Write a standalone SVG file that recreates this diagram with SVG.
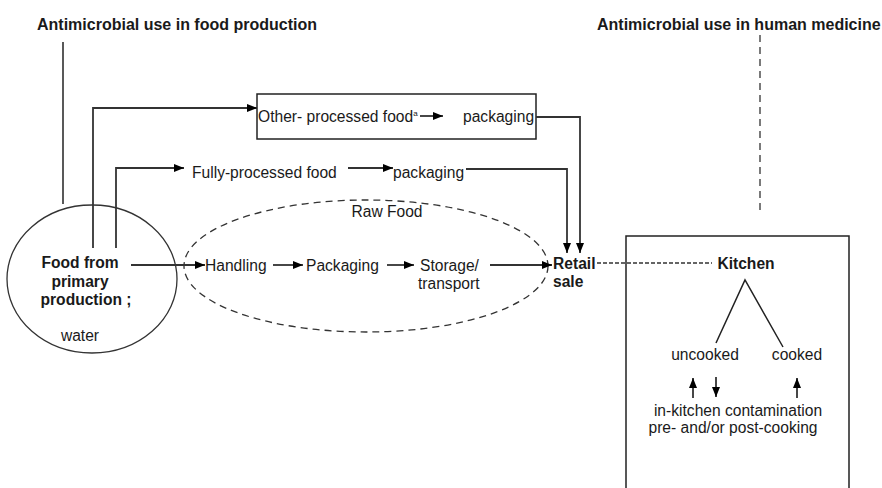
<svg xmlns="http://www.w3.org/2000/svg" width="882" height="488" viewBox="0 0 882 488">
<defs>
<marker id="ah" markerWidth="10" markerHeight="8" refX="10" refY="4" orient="auto" markerUnits="userSpaceOnUse">
<path d="M0,0 L10,4 L0,8 Z" fill="#000"/>
</marker>
<style>
text{font-family:"Liberation Sans",Arial,sans-serif;font-size:15.6px;fill:#1a1a1a}
.b{font-weight:bold}
.t{font-size:16px}
.ln{fill:none;stroke:#222;stroke-width:1.5}
.ar{fill:none;stroke:#333;stroke-width:1.8;marker-end:url(#ah)}
.dash{fill:none;stroke:#333;stroke-width:1.3;stroke-dasharray:7,5}
</style>
</defs>
<rect width="882" height="488" fill="#fff"/>
<g id="title-food"><text class="b t" x="37" y="30">Antimicrobial use in food production</text></g>
<g id="title-human"><text class="b t" x="597" y="30">Antimicrobial use in human medicine</text></g>
<g id="food-primary">
<ellipse cx="92" cy="279" rx="85" ry="74" fill="none" stroke="#333" stroke-width="1.3"/>
<text class="b" x="80" y="268" text-anchor="middle">Food from</text>
<text class="b" x="80" y="287" text-anchor="middle">primary</text>
<text class="b" x="86" y="305" text-anchor="middle">production ;</text>
<text x="80" y="341" text-anchor="middle">water</text>
</g>
<g id="raw-food">
<ellipse cx="366" cy="266" rx="182" ry="66" class="dash"/>
<text x="387" y="217" text-anchor="middle">Raw Food</text>
</g>
<g id="handling"><text x="205" y="271">Handling</text></g>
<g id="packaging-raw"><text x="306" y="271">Packaging</text></g>
<g id="storage"><text x="420" y="271">Storage/</text><text x="418" y="289">transport</text></g>
<g id="retail"><text class="b" x="553" y="269">Retail</text><text class="b" x="553" y="287">sale</text></g>
<g id="other-processed">
<rect x="257" y="94" width="279" height="45" fill="none" stroke="#222" stroke-width="1.5"/>
<text x="258" y="122">Other- processed food<tspan font-size="8" dy="-6">a</tspan></text>
<text x="463" y="122">packaging</text>
</g>
<g id="fully-processed"><text x="192" y="178">Fully-processed food</text></g>
<g id="packaging-fully"><text x="393" y="178">packaging</text></g>
<g id="kitchen">
<path d="M626,488 V236 H849 V488" fill="none" stroke="#222" stroke-width="1.5"/>
<text class="b" x="746" y="269" text-anchor="middle">Kitchen</text>
<text x="705" y="360" text-anchor="middle">uncooked</text>
<text x="797" y="360" text-anchor="middle">cooked</text>
<text x="738" y="416" text-anchor="middle">in-kitchen contamination</text>
<text x="733" y="433" text-anchor="middle">pre- and/or post-cooking</text>
</g>
<g id="connectors">
<line class="ln" x1="63" y1="42" x2="63" y2="204"/>
<line class="dash" x1="760" y1="35" x2="760" y2="212" stroke-dasharray="9,5"/>
<path class="ar" d="M93,248 V108 H257"/>
<path class="ar" d="M116,248 V168 H184"/>
<path class="ar" d="M420,116 H443"/>
<path class="ar" d="M348,168 H393"/>
<path class="ar" d="M536,117 H580 V253"/>
<path class="ar" d="M466,169 H567 V253"/>
<path class="ar" d="M131,265 H205"/>
<path class="ar" d="M273,265 H303"/>
<path class="ar" d="M387,265 H414"/>
<path class="ar" d="M490,265 H552"/>
<line x1="597" y1="263" x2="712" y2="263" stroke="#333" stroke-width="1.3" stroke-dasharray="4,2"/>
<path class="ln" d="M716,343 L745,280 L783,347" stroke-width="1.3"/>
<path class="ar" d="M693,398 V378"/>
<path class="ar" d="M716,377 V397"/>
<path class="ar" d="M797,398 V378"/>
</g>
</svg>
